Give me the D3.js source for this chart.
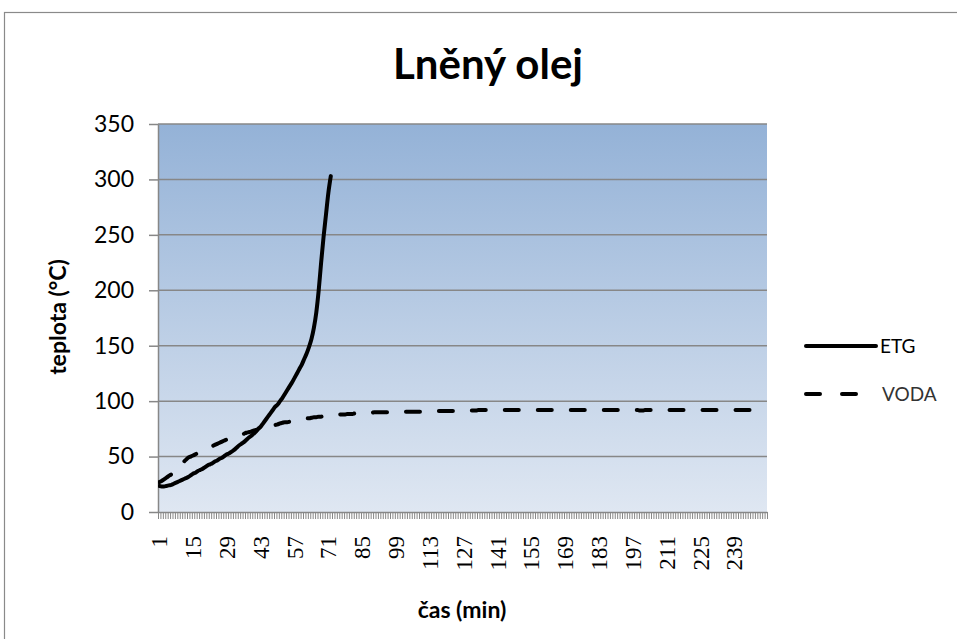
<!DOCTYPE html>
<html>
<head>
<meta charset="utf-8">
<script src="https://cdn.jsdelivr.net/npm/d3@7"></script>
<style>
body { margin: 0; background: #fff; }
svg text { font-family: Lato, "Open Sans", sans-serif; fill: #000; }
</style>
</head>
<body>
<svg id="chart" width="957" height="639"></svg>
<script>
// čas (min) - kategorie 1..252
const minutes = d3.range(1, 253);

// ETG (lněný olej)
const etg = [
  23.5, 23, 23, 23.5, 24, 24.5, 25.5, 26.5, 27.5, 28.5, 29.5, 30.5,
  31.5, 33, 34.5, 35.5, 37, 38, 39, 40.5, 42, 43, 44, 45.5,
  46.5, 48, 49, 50.5, 52, 53, 54.5, 56, 58, 60, 61.5, 63,
  65, 67, 68.5, 70.5, 72.5, 75, 77, 80, 83, 86, 89, 92,
  95, 97, 100, 103, 106.5, 110, 113.5, 117, 121, 125, 129, 133,
  138, 143, 149, 156, 166, 180, 200, 225, 248, 268, 288, 303
];

// VODA
const voda = [
  27, 28, 29.5, 31, 32.5, 34, 36, 38, 40.5, 43, 45, 47,
  49, 50, 51, 52, 53.5, 54.5, 55.5, 56.5, 57.5, 58.5, 59.5, 60.5,
  61.5, 62.5, 63.5, 64.5, 65.5, 66, 67, 67.5, 68.5, 69, 70, 70.5,
  71.5, 72, 72.5, 73.5, 74, 74.5, 75, 75.5, 76.5, 77, 77.5, 78,
  78.5, 79, 80, 80.5, 81, 81, 81.5, 82, 82.5, 83, 83.5, 83.5,
  84, 84.5, 84.5, 85, 85.5, 85.5, 86, 86, 86.5, 86.5, 87, 87,
  87, 87.5, 87.5, 88, 88, 88, 88.5, 88.5, 88.5, 89, 89, 89,
  89, 89.5, 89.5, 89.5, 89.5, 90, 90, 90, 90, 90, 90, 90,
  90, 90, 90, 90, 90.5, 90.5, 90.5, 90.5, 90.5, 90.5, 90.5, 90.5,
  90.5, 90.5, 90.5, 90.5, 90.5, 91, 91, 91, 91, 91, 91, 91,
  91, 91, 91, 91, 91, 91, 91, 91, 91.5, 91.5, 91.5, 91.5,
  92, 92, 92, 92, 92, 92, 92, 92, 92, 92, 92, 92,
  92, 92, 92, 92, 92, 92, 92, 92, 92, 92, 92, 92,
  92, 92, 92, 92, 92, 92, 92, 92, 92, 92, 92, 92,
  92, 92, 92, 92, 92, 92, 92, 92, 92, 92, 92, 92,
  92, 92, 92, 92, 92, 92, 92, 92, 92, 92, 92, 92,
  92, 92, 92, 92, 92, 92, 92, 91.5, 91.5, 92, 92, 92,
  92, 92, 92, 91.5, 91.5, 92, 92, 92, 92, 92, 92, 92,
  92, 92, 92, 92, 92, 92, 92, 92, 92, 92, 92, 92,
  92, 92, 92, 92, 92, 92, 92, 92, 92, 92, 92, 92,
  92, 92, 92, 92, 92, 92, 92, 92, 92, 92, 92, 92
];

const xTickLabels = [1, 15, 29, 43, 57, 71, 85, 99, 113, 127, 141, 155, 169, 183, 197, 211, 225, 239];
const yTicks = [0, 50, 100, 150, 200, 250, 300, 350];
const seriesNames = ["ETG", "VODA"];

const plot = {left: 158, right: 767, top: 124, bottom: 512};
const gridColor = "#878787";

const svg = d3.select("#chart");

// okraj grafu
svg.append("rect")
    .attr("x", 4.5).attr("y", 12.5)
    .attr("width", 970).attr("height", 650)
    .attr("fill", "#fff")
    .attr("stroke", "#8a8a8a")
    .attr("stroke-width", 1.2);

// gradient pozadi
const defs = svg.append("defs");
const grad = defs.append("linearGradient")
    .attr("id", "bg").attr("x1", 0).attr("y1", 0).attr("x2", 0).attr("y2", 1);
grad.append("stop").attr("offset", "0%").attr("stop-color", "#94b2d7");
grad.append("stop").attr("offset", "100%").attr("stop-color", "#dfe7f2");

defs.append("clipPath").attr("id", "clip")
    .append("rect")
    .attr("x", plot.left).attr("y", plot.top - 5)
    .attr("width", plot.right - plot.left).attr("height", plot.bottom - plot.top + 5);

const x = d3.scaleBand().domain(minutes).range([plot.left, plot.right]);
const xEdge = d3.scaleLinear().domain([0, minutes.length]).range([plot.left, plot.right]);
const y = d3.scaleLinear().domain([0, 350]).range([plot.bottom, plot.top]);

svg.append("rect")
    .attr("x", plot.left).attr("y", plot.top)
    .attr("width", plot.right - plot.left).attr("height", plot.bottom - plot.top)
    .attr("fill", "url(#bg)");

// mrizka
svg.append("g")
    .selectAll("line")
    .data(yTicks.filter(d => d > 0))
    .enter()
    .append("line")
    .attr("x1", plot.left).attr("x2", plot.right)
    .attr("y1", d => y(d)).attr("y2", d => y(d))
    .attr("stroke", gridColor)
    .attr("stroke-width", 1.5);

// osa y
const yAxis = svg.append("g")
    .attr("transform", `translate(${plot.left},0)`)
    .call(d3.axisLeft(y).tickValues(yTicks).tickSize(9).tickPadding(15).tickSizeOuter(0));
yAxis.select(".domain").attr("stroke", gridColor).attr("stroke-width", 1.5);
yAxis.selectAll(".tick line").attr("stroke", gridColor).attr("stroke-width", 1.5);
yAxis.selectAll(".tick text")
    .style("font-family", "Lato, sans-serif")
    .style("font-size", "23px")
    .attr("fill", "#000");

// osa x - carky mezi kategoriemi
const xAxis = svg.append("g")
    .attr("transform", `translate(0,${plot.bottom})`)
    .call(d3.axisBottom(xEdge).tickValues(d3.range(0, minutes.length + 1)).tickSize(7).tickFormat("").tickSizeOuter(0));
xAxis.select(".domain").attr("stroke", gridColor).attr("stroke-width", 1.5);
xAxis.selectAll(".tick line").attr("stroke", gridColor).attr("stroke-width", 1);

// popisky osy x (svisle)
svg.append("g")
    .selectAll("text")
    .data(xTickLabels)
    .enter()
    .append("text")
    .attr("transform", d => `translate(${x(d) + x.bandwidth() / 2},536) rotate(-90)`)
    .attr("text-anchor", "end")
    .attr("dy", "0.35em")
    .style("font-family", "'Liberation Serif', 'Times New Roman', serif")
    .style("font-size", "23px")
    .text(d => d);

// krivky
const line = d3.line()
    .x((d, i) => x(minutes[i]) + x.bandwidth() / 2)
    .y(d => y(d))
    .curve(d3.curveMonotoneX);

const lines = svg.append("g").attr("clip-path", "url(#clip)");
lines.append("path")
    .datum(voda)
    .attr("d", line)
    .attr("fill", "none")
    .attr("stroke", "#000")
    .attr("stroke-width", 4)
    .attr("stroke-linecap", "round")
    .attr("stroke-dasharray", "14,19");
lines.append("path")
    .datum(etg)
    .attr("d", line)
    .attr("fill", "none")
    .attr("stroke", "#000")
    .attr("stroke-width", 4)
    .attr("stroke-linecap", "round")
    .attr("stroke-linejoin", "round");

// titulky
svg.append("text")
    .attr("x", 488).attr("y", 79)
    .attr("text-anchor", "middle")
    .style("font-size", "42px")
    .style("font-weight", "bold")
    .text("Lněný olej");

svg.append("text")
    .attr("transform", "translate(66,317) rotate(-90)")
    .attr("text-anchor", "middle")
    .style("font-size", "23px")
    .style("font-weight", "bold")
    .text("teplota (°C)");

svg.append("text")
    .attr("x", 462).attr("y", 618)
    .attr("text-anchor", "middle")
    .style("font-size", "23px")
    .style("font-weight", "bold")
    .text("čas (min)");

// legenda
const legend = svg.append("g")
    .selectAll("g")
    .data(seriesNames)
    .enter()
    .append("g")
    .attr("transform", (d, i) => `translate(806,${346 + i * 48})`);
legend.append("line")
    .attr("x1", 0)
    .attr("x2", (d, i) => i === 0 ? 70 : 56)
    .attr("stroke", "#000")
    .attr("stroke-width", 4)
    .attr("stroke-linecap", "round")
    .attr("stroke-dasharray", (d, i) => i === 0 ? null : "14,22");
legend.append("text")
    .attr("x", (d, i) => i === 0 ? 74 : 76)
    .attr("dy", "0.36em")
    .style("font-size", "19px")
    .style("fill", (d, i) => i === 0 ? "#000" : "#333")
    .text(d => d);
</script>
</body>
</html>
